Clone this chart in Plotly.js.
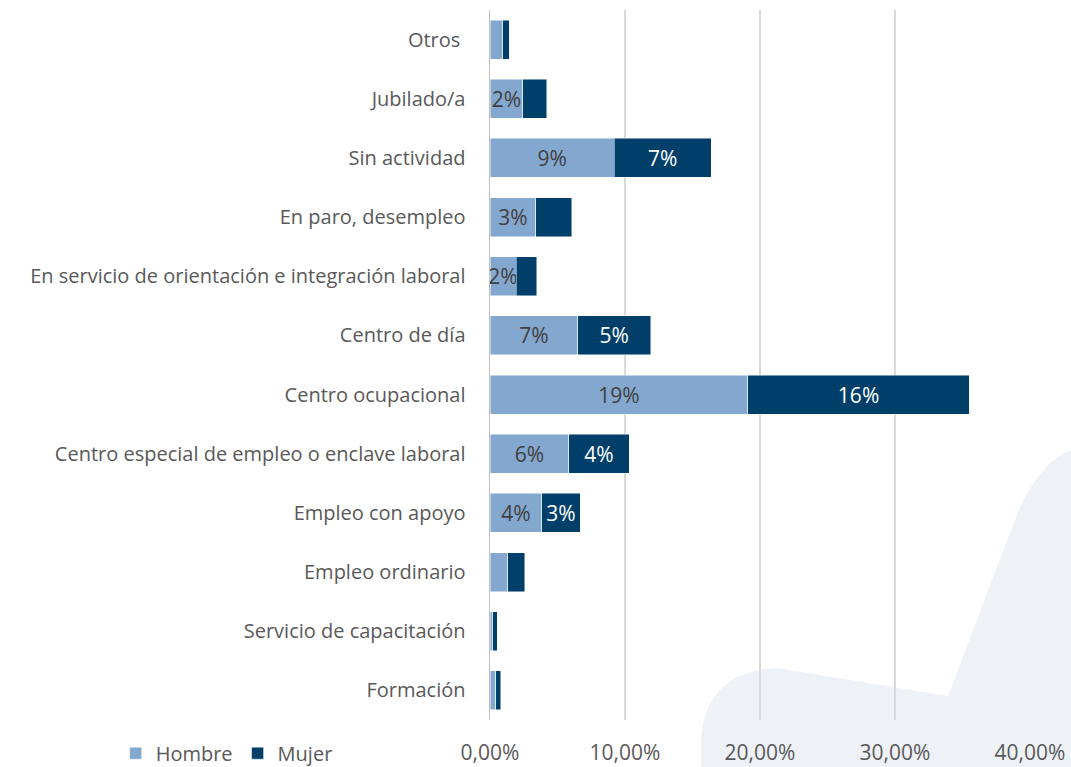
<!DOCTYPE html>
<html>
<head>
<meta charset="utf-8">
<script src="https://cdn.plot.ly/plotly-3.0.1.min.js"></script>
<style>html,body{margin:0;padding:0;background:#fff;}#chart{width:1071px;height:767px;}</style>
</head>
<body>
<div id="chart"></div>
<script>
const categories = [
  "Otros\u00a0",
  "Jubilado/a",
  "Sin actividad",
  "En paro, desempleo",
  "En servicio de orientación e integración laboral",
  "Centro de día",
  "Centro ocupacional",
  "Centro especial de empleo o enclave laboral",
  "Empleo con apoyo",
  "Empleo ordinario",
  "Servicio de capacitación",
  "Formación"
];
const hombre = [0.0096, 0.0244, 0.0920, 0.0340, 0.0193, 0.0650, 0.1910, 0.0585, 0.0385, 0.0133, 0.0022, 0.0044];
const mujer  = [0.0045, 0.0176, 0.0720, 0.0267, 0.0155, 0.0540, 0.1640, 0.0445, 0.0282, 0.0126, 0.0030, 0.0036];
const hombreLabels = ["", "2%", "9%", "3%", "2%", "7%", "19%", "6%", "4%", "", "", ""];
const mujerLabels  = ["", "", "7%", "", "", "5%", "16%", "4%", "3%", "", "", ""];
const xTicks = [0, 0.1, 0.2, 0.3, 0.4];

const FONT = "'Open Sans', 'Noto Sans', sans-serif";

const traces = [
  {
    type: "bar", orientation: "h", name: "Hombre",
    y: categories, x: hombre, text: hombreLabels,
    textposition: "inside", insidetextanchor: "middle", textangle: 0,
    insidetextfont: {color: "#404040", size: 21, family: FONT},
    marker: {color: "#84A7CF", line: {color: "rgba(255,255,255,0.6)", width: 0.8}},
    hoverinfo: "x+y"
  },
  {
    type: "bar", orientation: "h", name: "Mujer",
    y: categories, x: mujer, text: mujerLabels,
    textposition: "inside", insidetextanchor: "middle", textangle: 0,
    insidetextfont: {color: "#ffffff", size: 21, family: FONT},
    marker: {color: "#003F6A", line: {color: "rgba(255,255,255,0.6)", width: 0.8}},
    hoverinfo: "x+y"
  }
];

const layout = {
  width: 1071, height: 767,
  margin: {l: 490, r: 41, t: 10, b: 47, autoexpand: false},
  barmode: "stack",
  bargap: 0.34,
  separators: ",.",
  paper_bgcolor: "#ffffff",
  plot_bgcolor: "rgba(0,0,0,0)",
  font: {family: FONT, size: 20, color: "#595959"},
  uniformtext: {mode: "show", minsize: 21},
  xaxis: {
    range: [0, 0.4],
    tickvals: xTicks,
    tickformat: ".2%",
    showgrid: true, gridcolor: "#D9D9D9", gridwidth: 1.3,
    zeroline: false, showline: false,
    ticks: "outside", ticklen: 14, tickcolor: "rgba(0,0,0,0)",
    tickfont: {family: FONT, size: 21, color: "#595959"},
    automargin: false,
    fixedrange: true
  },
  yaxis: {
    categoryorder: "array", categoryarray: categories,
    autorange: "reversed",
    showgrid: false, zeroline: false,
    showline: true, linecolor: "#BFBFBF", linewidth: 1.5,
    ticks: "outside", ticklen: 19, tickcolor: "rgba(0,0,0,0)",
    tickfont: {family: FONT, size: 20, color: "#595959"},
    automargin: false,
    fixedrange: true
  },
  showlegend: true,
  legend: {
    orientation: "h",
    xref: "container", yref: "container",
    x: 0.108, xanchor: "left",
    y: 0.018, yanchor: "middle",
    font: {family: FONT, size: 20, color: "#595959"},
    bgcolor: "rgba(0,0,0,0)",
    traceorder: "normal"
  },
  shapes: [{
    type: "path", xref: "paper", yref: "paper", layer: "below",
    path: "M 0.3907,-0.0662 L 0.3907,-0.0282 Q 0.3981,0.0676 0.5315,0.0732 L 0.8481,0.0338 L 0.9778,0.2930 Q 1.0185,0.3634 1.0759,0.3803 L 1.0759,-0.0662 Z",
    fillcolor: "#EEF2F7", line: {width: 0}
  }]
};

Plotly.newPlot("chart", traces, layout, {displayModeBar: false, staticPlot: true});
</script>
</body>
</html>
